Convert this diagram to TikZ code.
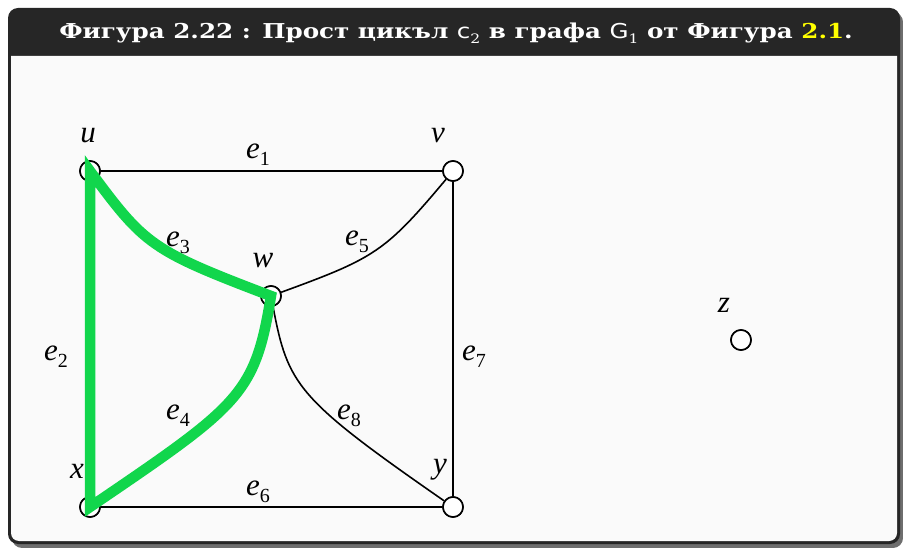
\documentclass[tikz,border=0pt]{standalone}
\usepackage{fontspec}
\usepackage{graphicx}
\newfontfamily\titlefont{DejaVu Serif}
\newfontfamily\lblfont{Liberation Serif}
\newfontfamily\subfont{DejaVu Sans}
\usetikzlibrary{calc}
\definecolor{framedark}{RGB}{38,38,38}
\definecolor{bodybg}{RGB}{250,250,250}
\definecolor{shadowgray}{RGB}{110,110,110}
\definecolor{cyclegreen}{RGB}{17,214,76}
\definecolor{titleyellow}{RGB}{255,255,0}
\newcommand{\elab}[1]{\textit{e}\raisebox{-0.22em}{\fontsize{20}{22}\selectfont #1}}
\newcommand{\tsub}[2]{{\subfont\mdseries #1}\raisebox{-0.2em}{\fontsize{13}{14}\selectfont\titlefont\mdseries #2}}
\tikzset{
  vertex/.style={circle,draw=black,fill=white,line width=1.6pt,minimum size=20pt,inner sep=0pt},
  edge/.style={draw=black,line width=1.6pt},
  lbl/.style={font=\lblfont\fontsize{31}{34}\selectfont,inner sep=0pt},
  cycle/.style={draw=cyclegreen,line width=10.5pt,line join=miter},
}
\begin{document}
\begin{tikzpicture}[x=1pt,y=-1pt]
\useasboundingbox (0,0) rectangle (903,548);
% frame
\fill[shadowgray] (12,12) [rounded corners=10pt] rectangle (903,548);
\fill[framedark] (8,8) [rounded corners=10pt] rectangle (900,544);
\fill[bodybg] (11,56) [rounded corners=8pt] -- (11,541) -- (897,541) [sharp corners] -- (897,56) -- cycle;
\node[font=\titlefont\bfseries\fontsize{20.5}{24}\selectfont,text=white,anchor=base] (title) at (456,39)
  {\scalebox{1.2}[1]{Фигура 2.22 : Прост цикъл \tsub{c}{2} в графа \tsub{G}{1} от Фигура \textcolor{titleyellow}{2.1}.}};
% vertices
\node[vertex] (u) at (90,171) {};
\node[vertex] (v) at (453,171) {};
\node[vertex] (w) at (271,296) {};
\node[vertex] (x) at (90,507) {};
\node[vertex] (y) at (453,507) {};
\node[vertex] (z) at (741,340) {};
% edges
\draw[edge] (u) -- (v);
\draw[edge] (u) -- (x);
\draw[edge] (u) .. controls (145,245) and (150,250) .. (w);
\draw[edge] (x) .. controls (240,405) and (255,395) .. (w);
\draw[edge] (w) .. controls (375,258) and (385,252) .. (v);
\draw[edge] (x) -- (y);
\draw[edge] (v) -- (y);
\draw[edge] (w) .. controls (288,385) and (296,398) .. (y);
% redraw vertices on top
\foreach \n in {u,v,w,x,y,z} \node[vertex] at (\n) {};
% cycle
\draw[cycle] (u.center) -- (x.center) .. controls (240,405) and (255,395) .. (w.center)
  .. controls (150,250) and (145,245) .. cycle;
% vertex labels
\node[lbl] (lu) at (88,136) {\textit{u}};
\node[lbl] (lv) at (438,136) {\textit{v}};
\node[lbl] (lw) at (263,261) {\textit{w}};
\node[lbl] (lx) at (77,471) {\textit{x}};
\node[lbl] (ly) at (440,470) {\textit{y}};
\node[lbl] (lz) at (724,305) {\textit{z}};
% edge labels
\node[lbl] (l1) at (258,155) {\elab{1}};
\node[lbl] (l2) at (56,357) {\elab{2}};
\node[lbl] (l3) at (178,243) {\elab{3}};
\node[lbl] (l4) at (178,416) {\elab{4}};
\node[lbl] (l5) at (357,242) {\elab{5}};
\node[lbl] (l6) at (258,492) {\elab{6}};
\node[lbl] (l7) at (474,357) {\elab{7}};
\node[lbl] (l8) at (349,416) {\elab{8}};
\end{tikzpicture}
\end{document}
